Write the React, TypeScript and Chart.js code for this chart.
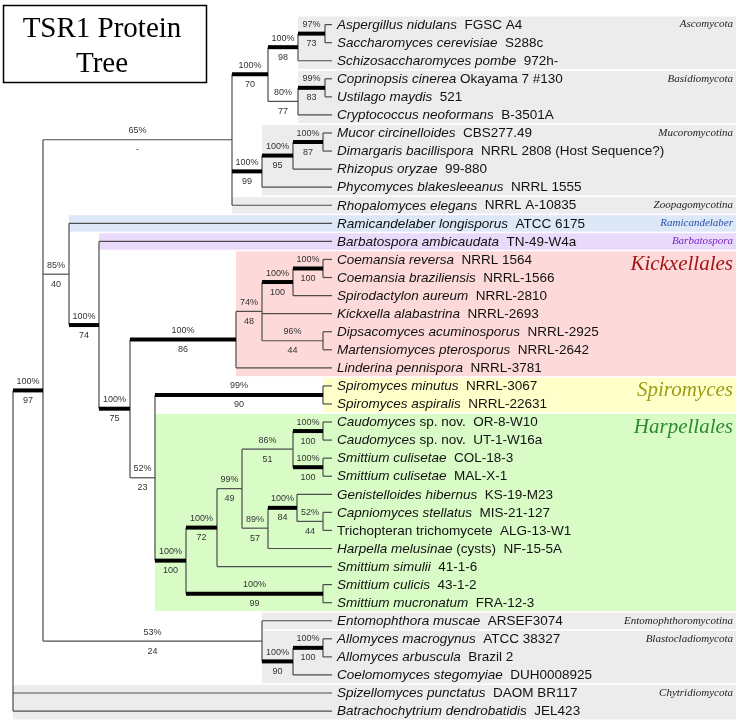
import React, { useEffect, useRef } from "react";
import { Chart, registerables } from "chart.js";
Chart.register(...registerables);

// ---------- DATA ----------
// Leaf taxa, top to bottom (italic part, then plain strain part)
const taxonItalic = [
  "Aspergillus nidulans", "Saccharomyces cerevisiae", "Schizosaccharomyces pombe",
  "Coprinopsis cinerea", "Ustilago maydis", "Cryptococcus neoformans",
  "Mucor circinelloides", "Dimargaris bacillispora", "Rhizopus oryzae",
  "Phycomyces blakesleeanus", "Rhopalomyces elegans", "Ramicandelaber longisporus",
  "Barbatospora ambicaudata", "Coemansia reversa", "Coemansia braziliensis",
  "Spirodactylon aureum", "Kickxella alabastrina", "Dipsacomyces acuminosporus",
  "Martensiomyces pterosporus", "Linderina pennispora", "Spiromyces minutus",
  "Spiromyces aspiralis", "Caudomyces", "Caudomyces", "Smittium culisetae",
  "Smittium culisetae", "Genistelloides hibernus", "Capniomyces stellatus", "",
  "Harpella melusinae", "Smittium simulii", "Smittium culicis", "Smittium mucronatum",
  "Entomophthora muscae", "Allomyces macrogynus", "Allomyces arbuscula",
  "Coelomomyces stegomyiae", "Spizellomyces punctatus", "Batrachochytrium dendrobatidis",
];
const taxonStrain = [
  "  FGSC A4", "  S288c", "  972h-", " Okayama 7 #130", "  521", "  B-3501A",
  "  CBS277.49", "  NRRL 2808 (Host Sequence?)", "  99-880", "  NRRL 1555",
  "  NRRL A-10835", "  ATCC 6175", "  TN-49-W4a", "  NRRL 1564", "  NRRL-1566",
  "  NRRL-2810", "  NRRL-2693", "  NRRL-2925", "  NRRL-2642", "  NRRL-3781",
  "  NRRL-3067", "  NRRL-22631", " sp. nov.  OR-8-W10", " sp. nov.  UT-1-W16a",
  "  COL-18-3", "  MAL-X-1", "  KS-19-M23", "  MIS-21-127",
  "Trichopteran trichomycete  ALG-13-W1", " (cysts)  NF-15-5A", "  41-1-6",
  "  43-1-2", "  FRA-12-3", "  ARSEF3074", "  ATCC 38327", "  Brazil 2",
  "  DUH0008925", "  DAOM BR117", "  JEL423",
];
const tipDepth = 332;

// Internal nodes: id, depth, children (leaf index or node id), support, bootstrap, strong
const nodeIds = ["AS", "ASS", "CU", "CUC", "DIK", "MD", "MDR", "MUC", "N65", "CC", "CCS", "DM", "N74",
  "KICK", "SPIRO", "CAUD", "SMC", "N86", "N52B", "N84", "N89", "N99", "N72", "SMM", "HARP", "N52",
  "N75", "N74B", "N85", "ALLO", "AC", "N53", "N1", "ROOT"];
const nodeDepth = [325, 298, 325, 298, 268, 323, 293, 262, 232, 323, 293, 323, 262,
  236, 323, 323, 323, 293, 323, 297, 268, 242, 217, 323, 186, 155,
  130, 99, 69, 323, 293, 262, 43, 13];
const nodeChildren = [
  ["0", "1"], ["AS", "2"], ["3", "4"], ["CU", "5"], ["ASS", "CUC"], ["6", "7"], ["MD", "8"],
  ["MDR", "9"], ["DIK", "MUC", "10"], ["13", "14"], ["CC", "15"], ["17", "18"], ["CCS", "16", "DM"],
  ["N74", "19"], ["20", "21"], ["22", "23"], ["24", "25"], ["CAUD", "SMC"], ["27", "28"],
  ["26", "N52B"], ["N84", "29"], ["N86", "N89"], ["N99", "30"], ["31", "32"], ["N72", "SMM"],
  ["SPIRO", "HARP"], ["KICK", "N52"], ["12", "N75"], ["11", "N74B"], ["34", "35"], ["ALLO", "36"],
  ["33", "AC"], ["N65", "N85", "N53"], ["N1", "37", "38"],
];
const nodeSupport = ["97%", "100%", "99%", "80%", "100%", "100%", "100%", "100%", "65%", "100%",
  "100%", "96%", "74%", "100%", "99%", "100%", "100%", "86%", "52%", "100%", "89%", "99%", "100%",
  "100%", "100%", "52%", "100%", "100%", "85%", "100%", "100%", "53%", "100%", ""];
const nodeBootstrap = ["73", "98", "83", "77", "70", "87", "95", "99", "-", "100", "100", "44", "48",
  "86", "90", "100", "100", "51", "44", "84", "57", "49", "72", "99", "100", "23", "75", "74", "40",
  "100", "90", "24", "97", ""];
const nodeStrong = [1, 1, 1, 0, 1, 1, 1, 1, 0, 1, 1, 0, 0, 1, 1, 1, 1, 0, 0, 1, 0, 0, 1, 1, 1, 0,
  1, 1, 0, 1, 1, 0, 1, 0];

// Clade boxes
const cladeNames = ["Ascomycota", "Basidiomycota", "Mucoromycotina", "Zoopagomycotina",
  "Ramicandelaber", "Barbatospora", "Kickxellales", "Spiromyces", "Harpellales",
  "Entomophthoromycotina", "Blastocladiomycota", "Chytridiomycota"];
const cladeFirst = [0, 3, 6, 10, 11, 12, 13, 20, 22, 33, 34, 37];
const cladeLast = [2, 5, 9, 10, 11, 12, 19, 21, 32, 33, 36, 38];
const cladeFromNode = ["ASS", "CUC", "MUC", "N65", "N85", "N74B", "KICK", "SPIRO", "N52", "N53", "N53", "ROOT"];
const boxRightDepth = 736;

// ---------- STYLE ----------
const cladeFill = ["#ececec", "#ececec", "#ececec", "#ececec", "#dce7f7", "#e9d9fb", "#fdd9d9",
  "#ffffc9", "#d9fcc7", "#ececec", "#ececec", "#ececec"];
const cladeTextColor = ["#222", "#222", "#222", "#222", "#2451a6", "#7b22cc", "#a31515",
  "#9c9c14", "#2f8a2f", "#222", "#222", "#222"];
const cladeBig = [0, 0, 0, 0, 0, 0, 1, 1, 1, 0, 0, 0];

const SANS = "'Liberation Sans', Arial, Helvetica, sans-serif";
const SERIF = "'Liberation Serif', 'Times New Roman', serif";

function layout() {
  const depth: Record<string, number> = {};
  const yPos: Record<string, number> = {};
  const parent: Record<string, string> = {};
  nodeIds.forEach((id, i) => { depth[id] = nodeDepth[i]; });
  taxonItalic.forEach((_, i) => { depth[String(i)] = tipDepth; yPos[String(i)] = i; });
  nodeIds.forEach((id, i) => nodeChildren[i].forEach((c) => { parent[c] = id; }));
  const idx: Record<string, number> = {};
  nodeIds.forEach((id, i) => { idx[id] = i; });
  const getY = (id: string): number => {
    if (yPos[id] !== undefined) return yPos[id];
    const ch = nodeChildren[idx[id]];
    const v = (getY(ch[0]) + getY(ch[ch.length - 1])) / 2;
    yPos[id] = v;
    return v;
  };
  nodeIds.forEach((id) => getY(id));
  return { depth, yPos, parent, idx };
}

export default function App() {
  const ref = useRef<HTMLCanvasElement | null>(null);
  useEffect(() => {
    if (!ref.current) return;
    const L = layout();
    const datasets: any[] = [];
    const thin = { borderColor: "#4d4d4d", borderWidth: 1.2 };
    const thick = { borderColor: "#000", borderWidth: 4 };
    const seg = (x0: number, y0: number, x1: number, y1: number, st: any) => {
      datasets.push({
        data: [{ x: x0, y: y0 }, { x: x1, y: y1 }],
        showLine: true, pointRadius: 0, borderCapStyle: "butt", ...st,
      });
    };
    // horizontal branches
    Object.keys(L.parent).forEach((id) => {
      const p = L.parent[id];
      const isNode = L.idx[id] !== undefined;
      const strong = isNode && nodeStrong[L.idx[id]] === 1;
      seg(L.depth[p], L.yPos[id], L.depth[id], L.yPos[id], strong ? thick : thin);
    });
    // vertical connectors
    nodeIds.forEach((id, i) => {
      const ch = nodeChildren[i];
      seg(nodeDepth[i], L.yPos[ch[0]], nodeDepth[i], L.yPos[ch[ch.length - 1]], thin);
    });

    const plugin = {
      id: "treeDecor",
      beforeDatasetsDraw(chart: any) {
        const { ctx, scales } = chart;
        const sx = scales.x, sy = scales.y;
        ctx.save();
        ctx.fillStyle = "#fff";
        ctx.fillRect(0, 0, chart.width, chart.height);
        cladeNames.forEach((_, i) => {
          const x0 = sx.getPixelForValue(L.depth[cladeFromNode[i]]);
          const x1 = sx.getPixelForValue(boxRightDepth);
          const y0 = sy.getPixelForValue(cladeFirst[i] - 0.45);
          const y1 = sy.getPixelForValue(cladeLast[i] + 0.46);
          ctx.fillStyle = cladeFill[i];
          ctx.fillRect(x0, y0, x1 - x0, y1 - y0);
        });
        ctx.restore();
      },
      afterDatasetsDraw(chart: any) {
        const { ctx, scales } = chart;
        const sx = scales.x, sy = scales.y;
        ctx.save();
        // leaf labels
        ctx.textBaseline = "middle";
        ctx.textAlign = "left";
        ctx.fillStyle = "#111";
        taxonItalic.forEach((it, i) => {
          let x = sx.getPixelForValue(tipDepth) + 5;
          const y = sy.getPixelForValue(i) + 0.5;
          if (it) {
            ctx.font = `italic 13.5px ${SANS}`;
            ctx.fillText(it, x, y);
            x += ctx.measureText(it).width;
          }
          ctx.font = `13.5px ${SANS}`;
          ctx.fillText(taxonStrain[i], x, y);
        });
        // support labels
        ctx.font = `9px ${SANS}`;
        ctx.fillStyle = "#333";
        ctx.textAlign = "center";
        nodeIds.forEach((id, i) => {
          const p = L.parent[id];
          if (!p) return;
          const cx = (sx.getPixelForValue(L.depth[p]) + sx.getPixelForValue(nodeDepth[i])) / 2;
          const cy = sy.getPixelForValue(L.yPos[id]);
          ctx.fillText(nodeSupport[i], cx, cy - 9);
          ctx.fillText(nodeBootstrap[i], cx, cy + 10);
        });
        // clade labels
        ctx.textAlign = "right";
        cladeNames.forEach((n, i) => {
          ctx.fillStyle = cladeTextColor[i];
          if (cladeBig[i]) {
            ctx.font = `italic 21px ${SERIF}`;
            ctx.fillText(n, sx.getPixelForValue(733), sy.getPixelForValue(cladeFirst[i] + 0.28));
          } else {
            ctx.font = `italic 11px ${SERIF}`;
            ctx.fillText(n, sx.getPixelForValue(733), sy.getPixelForValue(cladeFirst[i]));
          }
        });
        ctx.restore();
      },
      afterDraw(chart: any) {
        const { ctx } = chart;
        ctx.save();
        ctx.fillStyle = "#fff";
        ctx.fillRect(3, 5, 204, 78);
        ctx.strokeStyle = "#000";
        ctx.lineWidth = 1.5;
        ctx.strokeRect(3.5, 5.5, 203, 77);
        ctx.fillStyle = "#000";
        ctx.font = `29px ${SERIF}`;
        ctx.textAlign = "center";
        ctx.textBaseline = "alphabetic";
        ctx.fillText("TSR1 Protein", 102, 37);
        ctx.fillText("Tree", 102, 72);
        ctx.restore();
      },
    };

    const chart = new Chart(ref.current, {
      type: "scatter",
      data: { datasets },
      options: {
        animation: false,
        responsive: false,
        devicePixelRatio: 1,
        layout: { padding: 0 },
        plugins: { legend: { display: false }, tooltip: { enabled: false } },
        events: [],
        scales: {
          x: { type: "linear", min: 0, max: 744, display: false },
          y: { type: "linear", min: -1.3617, max: 38.66, reverse: true, display: false },
        },
      },
      plugins: [plugin],
    });
    return () => chart.destroy();
  }, []);
  return (
    <div style={{ position: "absolute", left: 0, top: 0, width: 744, height: 723 }}>
      <canvas ref={ref} width={744} height={723} style={{ display: "block", width: 744, height: 723 }} />
    </div>
  );
}
